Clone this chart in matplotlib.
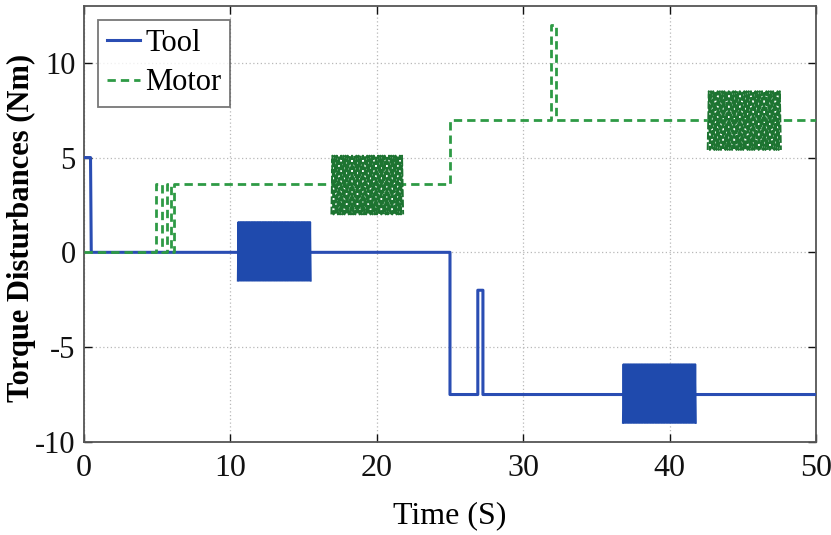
import numpy as np
import matplotlib
matplotlib.use("Agg")
import matplotlib.pyplot as plt

# ---- data ----
tool_t = [0, 0.45, 0.5, 25.0, 25.0, 26.9, 26.9, 27.25, 27.25, 50]
tool_v = [5, 5, 0, 0, -7.5, -7.5, -2.0, -2.0, -7.5, -7.5]
# oscillation bands: (t_start, t_end, low, high)
tool_bands = [(10.5, 15.5, -1.5, 1.6), (36.8, 41.8, -9.0, -5.9)]

motor_t = [0, 4.9, 4.9, 5.3, 5.3, 5.7, 5.7, 5.95, 5.95, 6.15, 6.15,
           25.0, 25.0, 31.9, 31.9, 32.25, 32.25, 50]
motor_v = [0, 0, 3.6, 3.6, 0, 0, 3.6, 3.6, 0, 0, 3.6,
           3.6, 7.0, 7.0, 12.0, 12.0, 7.0, 7.0]
motor_bands = [(16.9, 21.8, 2.0, 5.1), (42.6, 47.6, 5.4, 8.5)]

x_ticks = [0, 10, 20, 30, 40, 50]
y_ticks = [-10, -5, 0, 5, 10]

BLUE = "#2a4db3"
BLUE_BAND = "#1f4aad"
GREEN = "#2e9a45"
GREEN_BAND = "#1d7431"

plt.rcParams['font.family'] = ['Liberation Serif', 'DejaVu Serif']

fig = plt.figure(figsize=(8.31, 5.35), dpi=100)
ax = fig.add_axes([0.101, 0.174, 0.881, 0.815])

def zigzag(t0, t1, lo, hi, cycles):
    n = int(cycles)
    ts = np.linspace(t0, t1, 2 * n + 1)
    vs = np.empty_like(ts)
    vs[0::2] = lo
    vs[1::2] = hi
    return ts, vs

# Tool
ax.plot(tool_t, tool_v, color=BLUE, lw=2.2, label="Tool", zorder=3)
for (t0, t1, lo, hi) in tool_bands:
    ax.fill_between([t0, t1], [lo, lo], [hi, hi], color=BLUE_BAND, lw=0, zorder=4)
    ts, vs = zigzag(t0, t1, lo, hi, 60)
    ax.plot(ts, vs, color=BLUE_BAND, lw=1.2, zorder=4)

# Motor
ax.plot(motor_t, motor_v, color=GREEN, lw=2.0, ls=(0, (3, 1.8)), label="Motor", zorder=3)
for (t0, t1, lo, hi) in motor_bands:
    ts, vs = zigzag(t0, t1, lo, hi, 33)
    ax.plot(ts, vs, color=GREEN_BAND, lw=1.4, ls=(0, (4, 1.3)), zorder=4)

ax.set_xlim(0, 50)
ax.set_ylim(-10, 13)
ax.set_xticks(x_ticks)
ax.set_yticks(y_ticks)
ax.set_yticklabels([str(v) for v in y_ticks])
ax.tick_params(direction='in', length=6, width=1, top=True, right=True, colors='#111111')
ax.tick_params(axis='x', pad=9, labelsize=23)
ax.tick_params(axis='y', pad=6, labelsize=22)
ax.grid(True, ls=(0, (1, 2)), color='#b8b8b8', lw=0.9)
for s in ax.spines.values():
    s.set_color('#555555')
    s.set_linewidth(1.3)

ax.set_xlabel("Time (S)", fontsize=23, labelpad=13)
ax.set_ylabel("Torque Disturbances (Nm)", fontsize=22, fontweight='bold')
ax.yaxis.set_label_coords(-0.066, 0.49)

leg = ax.legend(loc='upper left', fontsize=22, frameon=True, fancybox=False,
                handlelength=1.1, handletextpad=0.15, borderpad=0.3,
                labelspacing=0.35, borderaxespad=0.45)
leg.get_frame().set_edgecolor('#555555')
leg.get_frame().set_linewidth(1.3)

fig.savefig("out.png", dpi=100)
